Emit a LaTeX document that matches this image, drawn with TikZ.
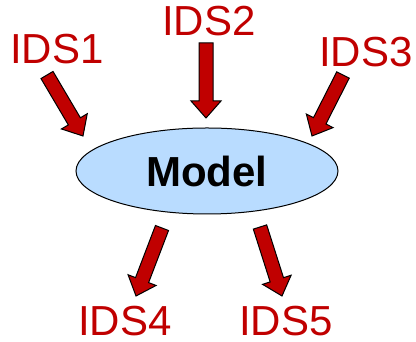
\documentclass[tikz,border=0pt]{standalone}
\usepackage{fontspec}
\setmainfont{Liberation Sans}
\usetikzlibrary{calc,shapes.geometric,positioning}
\definecolor{rojo}{RGB}{192,0,0}
\definecolor{celeste}{RGB}{185,220,255}

\begin{document}
\begin{tikzpicture}[
        x=1pt, y=1pt,
        etiqueta/.style={text=rojo, font=\fontsize{42}{42}\selectfont, inner sep=0pt},
        modelo/.style={ellipse, draw=black, line width=1pt, fill=celeste, minimum width=262pt, minimum height=86pt, inner sep=0pt, font=\fontsize{42}{42}\selectfont\bfseries},
        flecha/.style={draw=black, fill=rojo, line width=1pt, line join=miter,
            to path={let \p1=(\tikztostart), \p2=(\tikztotarget),
                \n1={atan2(\y2-\y1,\x2-\x1)}, \n2={veclen(\x2-\x1,\y2-\y1)-17} in
                ($(\p1)+({\n1+90}:7)$) -- ($(\p1)+({\n1}:\n2)+({\n1+90}:7)$)
                -- ($(\p1)+({\n1}:\n2)+({\n1+90}:15)$) -- (\p2)
                -- ($(\p1)+({\n1}:\n2)+({\n1-90}:15)$) -- ($(\p1)+({\n1}:\n2)+({\n1-90}:7)$)
                -- ($(\p1)+({\n1-90}:7)$) -- cycle}}
    ]
        \useasboundingbox (0,0) rectangle (416,342);

        \node[modelo] (model) at (207,171) {Model};

        \node[etiqueta] (ids1) at (57,293) {IDS1};
        \node[etiqueta] (ids2) at (209,321) {IDS2};
        \node[etiqueta] (ids3) at (366,290) {IDS3};
        \node[etiqueta] (ids4) at (125,21) {IDS4};
        \node[etiqueta] (ids5) at (286,21) {IDS5};

        % extremos de las flechas
        \coordinate (c1) at (47,267);  \coordinate (p1) at (83,206);
        \coordinate (c2) at (206,299); \coordinate (p2) at (206,224);
        \coordinate (c3) at (343,267); \coordinate (p3) at (312,206);
        \coordinate (c4) at (162,114); \coordinate (p4) at (136,46);
        \coordinate (c5) at (260,115); \coordinate (p5) at (282,46);

        % flechas
        \draw[flecha] (c1) to (p1);
        \draw[flecha] (c2) to (p2);
        \draw[flecha] (c3) to (p3);
        \draw[flecha] (c4) to (p4);
        \draw[flecha] (c5) to (p5);

    \end{tikzpicture}
\end{document}
